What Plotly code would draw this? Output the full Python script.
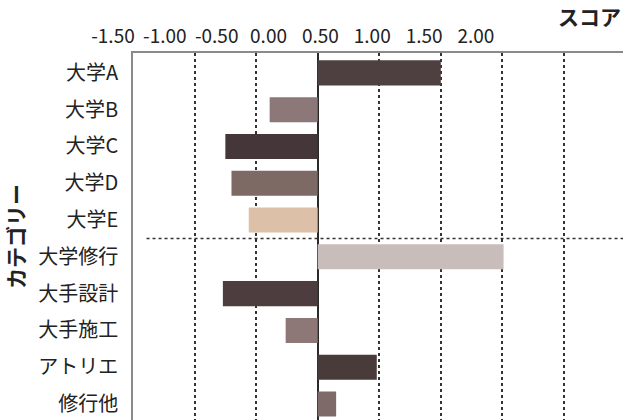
import plotly.graph_objects as go

# Categories (top to bottom) and their scores
categories = ["大学A", "大学B", "大学C", "大学D", "大学E",
              "大学修行", "大手設計", "大手施工", "アトリエ", "修行他"]
scores = [1.00, -0.39, -0.75, -0.70, -0.56, 1.51, -0.77, -0.26, 0.48, 0.15]
bar_colors = ["#4e4041", "#8c7878", "#453739", "#7d6a64", "#dcc0a8",
              "#c9bdbb", "#4d3d3e", "#8d7777", "#4a3b3b", "#7e6a68"]

# Axis tick values / labels
tick_values = [-1.5, -1.0, -0.5, 0.0, 0.5, 1.0, 1.5, 2.0]
tick_labels = ["-1.50", "-1.00", "-0.50", "0.00", "0.50", "1.00", "1.50", "2.00"]

W, H = 623, 420
PLOT_LEFT = 133      # px where the plotting area starts
LABEL_LEFT = 100     # px where the label axis starts
TOP = 53             # px above the plotting area

FONT = "Noto Sans CJK JP"

fig = go.Figure()

fig.add_trace(go.Bar(
    x=scores, y=categories, orientation="h",
    marker=dict(color=bar_colors, line=dict(width=0)),
    width=0.68, showlegend=False, hoverinfo="x+y",
))

# Invisible carrier for the score label axis on top
fig.add_trace(go.Scatter(
    x=tick_values, y=[categories[0]] * len(tick_values),
    xaxis="x2", mode="markers", marker=dict(opacity=0),
    showlegend=False, hoverinfo="skip",
))

fig.update_layout(
    width=W, height=H,
    margin=dict(l=0, r=0, t=TOP, b=0, autoexpand=False),
    paper_bgcolor="white", plot_bgcolor="rgba(0,0,0,0)",
    font=dict(family=FONT, color="#222222"),
    xaxis=dict(
        domain=[PLOT_LEFT / W, 1], range=[-1.5, 2.48], side="top",
        tickvals=tick_values[1:], showticklabels=False, ticks="",
        showgrid=True, gridcolor="#333333", griddash="dot", gridwidth=1.5,
        zeroline=True, zerolinecolor="#2a2a2a", zerolinewidth=1.6,
        showline=True, linecolor="#8a8a8a", linewidth=1.5,
        fixedrange=True,
    ),
    xaxis2=dict(
        domain=[LABEL_LEFT / W, 1], range=[-1.625, 3.418],
        anchor="y", side="top",
        tickvals=tick_values, ticktext=tick_labels,
        tickfont=dict(family=FONT, size=19, color="#222222"),
        showgrid=False, zeroline=False, showline=False, ticks="",
        ticklabelstandoff=5,
    ),
    yaxis=dict(
        domain=[0, 1], type="category", categoryorder="array",
        categoryarray=categories, range=[9.435, -0.54],
        anchor="x",
        tickfont=dict(family=FONT, size=20, color="#222222"),
        showgrid=False, zeroline=False,
        showline=True, linecolor="#8a8a8a", linewidth=1.5,
        ticks="", ticklabelstandoff=9,
        title=dict(text="<b>カテゴリー</b>", font=dict(family=FONT, size=21, color="#222222"),
                   standoff=12),
    ),
    bargap=0.3,
)

# Separator between university groups and career groups
fig.add_shape(
    type="line", xref="x", yref="y",
    x0=-1.39, x1=2.48, y0=4.5, y1=4.5,
    line=dict(color="#333333", width=1.5, dash="dot"),
)

# Score axis title, pinned to the top-right corner of the page
fig.add_annotation(
    text="<b>スコア</b>", xref="paper", yref="paper",
    x=1.0, y=1.0, xanchor="right", yanchor="top", yshift=TOP, xshift=-1,
    borderpad=0, showarrow=False,
    font=dict(family=FONT, size=21, color="#222222"),
)

fig.write_html("out.html")
